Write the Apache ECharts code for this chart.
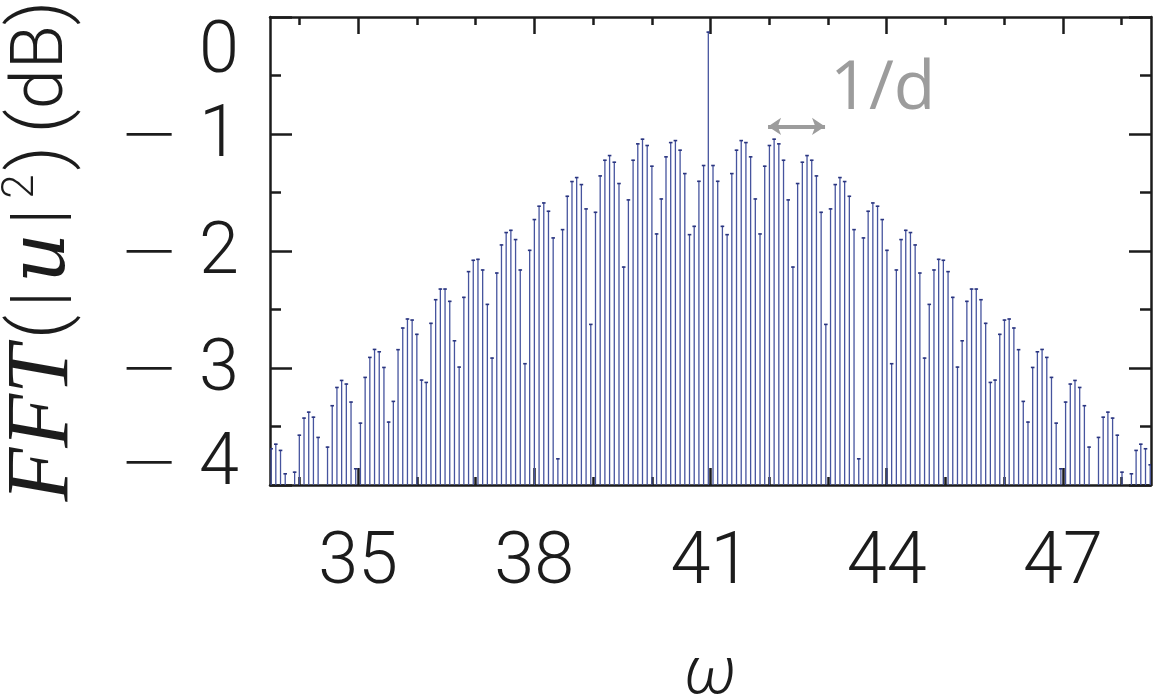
<!DOCTYPE html>
<html><head><meta charset="utf-8">
<script src="https://cdn.jsdelivr.net/npm/echarts@6/dist/echarts.min.js"></script>
<style>html,body{margin:0;padding:0;background:#fff}#c{width:1155px;height:694px}</style>
</head><body><div id="c"></div>
<script>
// frequency grid of the FFT bins (uniform sampling)
const omegaStart = 33.519;
const omegaStep = 0.08004;
// FFT(|u|^2) in dB (values below -4 are outside the frame)
const fftDbLeft = [
 -3.686,-3.647,-3.700,-3.900,-4.300,-3.886,-3.570,-3.424,-3.373,-3.416,
 -3.589,-4.300,-3.672,-3.318,-3.162,-3.102,-3.133,-3.287,-3.857,-3.467,
 -3.076,-2.905,-2.837,-2.857,-2.991,-3.458,-3.281,-2.839,-2.654,-2.577,
 -2.586,-2.708,-3.099,-3.119,-2.614,-2.412,-2.321,-2.321,-2.426,-2.763,
 -2.988,-2.392,-2.172,-2.075,-2.067,-2.158,-2.452,-2.911,-2.184,-1.944,
 -1.838,-1.819,-1.898,-2.158,-2.959,-1.990,-1.727,-1.613,-1.585,-1.656,
 -1.884,-3.772,-1.813,-1.528,-1.402,-1.368,-1.428,-1.636,-2.623,-1.665,
 -1.354,-1.220,-1.180,-1.237,-1.419,-2.133,-1.559,-1.220,-1.080,-1.040,
 -1.094,-1.271,-1.850,-1.551,-1.191,-1.069,-1.052,-1.134,-1.334,-1.856,
 -1.785,-1.400,-1.265
];
const fftDbCenter = [-0.125];
const fftDbRight = [
 -1.265,-1.400,-1.785,-1.856,-1.334,-1.134,-1.052,-1.069,-1.191,-1.551,
 -1.850,-1.271,-1.094,-1.040,-1.080,-1.220,-1.559,-2.133,-1.419,-1.237,
 -1.180,-1.220,-1.354,-1.665,-2.623,-1.636,-1.428,-1.368,-1.402,-1.528,
 -1.813,-3.772,-1.884,-1.656,-1.585,-1.613,-1.727,-1.990,-2.959,-2.158,
 -1.898,-1.819,-1.838,-1.944,-2.184,-2.911,-2.452,-2.158,-2.067,-2.075,
 -2.172,-2.392,-2.988,-2.763,-2.426,-2.321,-2.321,-2.412,-2.614,-3.119,
 -3.099,-2.708,-2.586,-2.577,-2.654,-2.839,-3.281,-3.458,-2.991,-2.857,
 -2.837,-2.905,-3.076,-3.467,-3.857,-3.287,-3.133,-3.102,-3.162,-3.318,
 -3.672,-4.300,-3.589,-3.416,-3.373,-3.424,-3.570,-3.886,-4.300,-3.900,
 -3.700,-3.647,-3.686,-3.823
];
const xMajorTicks = [35, 38, 41, 44, 47];
const xMinorTicks = [34, 35, 36, 37, 38, 39, 40, 41, 42, 43, 44, 45, 46, 47, 48];
const xRange = [33.5, 48.5];
const yRange = [-4, 0];
const arrowSpan = [41.98, 42.95];
const arrowLevel = -0.935;
const arrowText = '1/d';

const fftDb = fftDbLeft.concat(fftDbCenter, fftDbRight);
const stemData = fftDb.map((v, i) => [omegaStart + i * omegaStep, v]);

const INK = '#1c1c1c';
const axisLine = { show: true, onZero: false, lineStyle: { color: INK, width: 2.5 } };
const tickStyle = { color: INK, width: 2.5 };
const numFont = { fontFamily: 'Roboto', fontWeight: 300, color: INK };

function renderStem(params, api) {
  const x = api.value(0), v = api.value(1);
  if (v <= yRange[0]) return null;
  const top = api.coord([x, v]);
  const base = api.coord([x, yRange[0]]);
  return {
    type: 'group',
    children: [
      { type: 'line', shape: { x1: top[0], y1: base[1], x2: top[0], y2: top[1] },
        style: { stroke: '#46549e', lineWidth: 1.3 } },
      { type: 'line', shape: { x1: top[0] - 1.8, y1: top[1] + 0.5, x2: top[0] + 1.8, y2: top[1] + 0.5 },
        style: { stroke: '#2a3580', lineWidth: 1.6 } }
    ]
  };
}

const digit = { fontFamily: 'Roboto', fontWeight: 300, fontSize: 72, color: INK };
const minus = { fontFamily: 'DejaVu Sans', fontWeight: 300, fontSize: 72, color: INK };
const labelRich = {
  z: Object.assign({ padding: [74, 0, 0, 0] }, digit),
  mm: Object.assign({ padding: [8, 20, 0, 0] }, minus),
  m: Object.assign({ padding: [8, 0, 0, 0] }, digit),
  bmi: Object.assign({ padding: [0, 20, 38, 0] }, minus),
  b: Object.assign({ padding: [0, 0, 38, 0] }, digit)
};

const chart = echarts.init(document.getElementById('c'), null, { renderer: 'canvas' });
const option = {
  animation: false,
  backgroundColor: '#ffffff',
  grid: { left: 270, right: 4, top: 17, bottom: 209, containLabel: false, outerBoundsMode: 'none' },
  xAxis: [
    { type: 'value', position: 'bottom', min: xRange[0], max: xRange[1],
      axisLine: axisLine,
      axisTick: { show: true, inside: true, length: 17, lineStyle: tickStyle, customValues: xMajorTicks },
      axisLabel: Object.assign({ customValues: xMajorTicks, fontSize: 72, margin: 44 }, numFont),
      splitLine: { show: false },
      name: 'ω', nameLocation: 'middle', nameGap: 158,
      nameTextStyle: { fontFamily: 'Roboto', fontStyle: 'italic', fontWeight: 300, fontSize: 66, color: INK } },
    { type: 'value', position: 'bottom', min: xRange[0], max: xRange[1],
      axisLine: { show: false, onZero: false },
      axisTick: { show: true, inside: true, length: 8, lineStyle: tickStyle, customValues: xMinorTicks },
      axisLabel: { show: false }, splitLine: { show: false } },
    { type: 'value', position: 'top', min: xRange[0], max: xRange[1],
      axisLine: axisLine,
      axisTick: { show: true, inside: true, length: 17, lineStyle: tickStyle, customValues: xMajorTicks },
      axisLabel: { show: false }, splitLine: { show: false } },
    { type: 'value', position: 'top', min: xRange[0], max: xRange[1],
      axisLine: { show: false, onZero: false },
      axisTick: { show: true, inside: true, length: 8, lineStyle: tickStyle, customValues: xMinorTicks },
      axisLabel: { show: false }, splitLine: { show: false } }
  ],
  yAxis: [
    { type: 'value', position: 'left', min: yRange[0], max: yRange[1], interval: 1,
      axisLine: axisLine,
      axisTick: { show: true, inside: true, length: 22, lineStyle: tickStyle },
      axisLabel: Object.assign({
        fontSize: 72, margin: 31, showMinLabel: true, showMaxLabel: true,
        formatter: function (v) {
          if (v === 0) return '{z|0}';
          if (v === yRange[0]) return '{bmi|\u2212}{b|' + (-v) + '}';
          return '{mm|\u2212}{m|' + (-v) + '}';
        },
        rich: labelRich
      }, numFont),
      splitLine: { show: false },
      name: '{it|FFT}{p|(}{bar||}{u|u}{bar||}{sup|2}{p|)}{p2|(}{n|dB}{p|)}',
      nameLocation: 'middle', nameRotate: 90, nameGap: 182,
      nameTextStyle: {
        fontFamily: 'Roboto', fontWeight: 300, fontSize: 72, color: INK,
        rich: {
          it: { fontFamily: 'Liberation Serif', fontStyle: 'italic', fontSize: 88, color: INK, padding: [0, 6, 0, 0] },
          p: { fontFamily: 'Roboto', fontWeight: 300, fontSize: 76, color: INK },
          p2: { fontFamily: 'Roboto', fontWeight: 300, fontSize: 76, color: INK, padding: [0, 0, 0, 12] },
          bar: { fontFamily: 'Roboto', fontWeight: 300, fontSize: 72, color: INK, padding: [0, 8, 0, 8] },
          u: { fontFamily: 'DejaVu Serif', fontStyle: 'italic', fontSize: 78, color: INK },
          sup: { fontFamily: 'Roboto', fontWeight: 300, fontSize: 44, color: INK, verticalAlign: 'top', padding: [0, 4, 0, 2] },
          n: { fontFamily: 'Roboto', fontWeight: 300, fontSize: 72, color: INK }
        }
      } },
    { type: 'value', position: 'left', min: yRange[0], max: yRange[1], interval: 0.5,
      axisLine: { show: false, onZero: false },
      axisTick: { show: true, inside: true, length: 11, lineStyle: tickStyle },
      axisLabel: { show: false }, splitLine: { show: false } },
    { type: 'value', position: 'right', min: yRange[0], max: yRange[1], interval: 1,
      axisLine: axisLine,
      axisTick: { show: true, inside: true, length: 22, lineStyle: tickStyle },
      axisLabel: { show: false }, splitLine: { show: false } },
    { type: 'value', position: 'right', min: yRange[0], max: yRange[1], interval: 0.5,
      axisLine: { show: false, onZero: false },
      axisTick: { show: true, inside: true, length: 11, lineStyle: tickStyle },
      axisLabel: { show: false }, splitLine: { show: false } }
  ],
  series: [
    { type: 'custom', name: 'FFT', xAxisIndex: 0, yAxisIndex: 0, clip: true,
      renderItem: renderStem, data: stemData, silent: true, z: 1 },
    { type: 'line', name: 'spacing', xAxisIndex: 0, yAxisIndex: 0, data: [], symbol: 'none',
      silent: true,
      markLine: {
        silent: true, symbol: ['arrow', 'arrow'], symbolSize: [13, 13],
        lineStyle: { color: '#9c9c9c', width: 4, type: 'solid' },
        label: { show: false },
        data: [[{ coord: [arrowSpan[0], arrowLevel] }, { coord: [arrowSpan[1], arrowLevel] }]]
      } }
  ],
  graphic: [
    { type: 'text', left: 830, top: 56, silent: true,
      style: { text: arrowText, fontFamily: 'Open Sans', fontWeight: 400, fontSize: 68, fill: '#9c9c9c' } }
  ]
};
chart.setOption(option);
</script>
</body></html>
